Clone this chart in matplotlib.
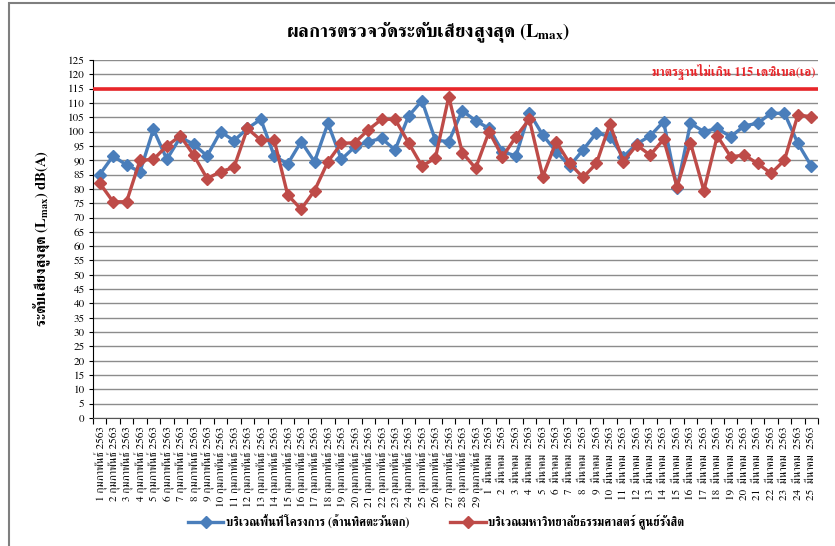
import numpy as np
import matplotlib
matplotlib.use("Agg")
import matplotlib.pyplot as plt
from matplotlib.patches import Rectangle

plt.rcParams['font.family'] = ['FreeSerif', 'DejaVu Serif']
plt.rcParams['mathtext.fontset'] = 'stix'

# dates (Feb 1-29, Mar 1-25, 2563)
labels = [str(d) + " กุมภาพันธ์ 2563" for d in range(1, 30)] + \
         [str(d) + "  มีนาคม  2563" for d in range(1, 26)]

site_west = [85, 91.5, 88.3, 86, 100.8, 90.3, 98, 95.6, 91.5, 100,
             96.8, 101.1, 104.3, 91.5, 88.7, 96.5, 89.5, 102.9, 90.3, 94.7,
             96.5, 97.6, 93.6, 105.4, 110.8, 97, 96.5, 107.3, 103.8, 101.1,
             93, 91.5, 106.6, 98.8, 93, 88, 93.6, 99.6, 98.2, 91.2,
             95.7, 98.5, 103.5, 80.2, 102.9, 100, 101.1, 98.2, 102, 102.9,
             106.4, 106.4, 95.9, 88]
thammasat = [82, 75.5, 75.5, 90, 90.3, 95, 98.5, 91.8, 83.6, 86,
             87.5, 101.1, 97, 97, 77.9, 72.9, 79.4, 89.5, 95.9, 96.1,
             100.6, 104.3, 104.3, 96.1, 88, 90.7, 112.2, 92.7, 87.2, 100,
             91.2, 98.2, 104.3, 84.3, 96.5, 88.9, 84, 88.9, 102.6, 89.5,
             95.3, 91.8, 97.3, 80.8, 96.1, 79.4, 98.5, 91.2, 91.8, 88.9,
             85.4, 90, 105.8, 105.2]
standard = 115

fig = plt.figure(figsize=(8.35, 5.46), dpi=100)
ax = fig.add_axes([93/835, 1 - 418/546, (818 - 93)/835, (418 - 60)/546])

x = np.arange(len(labels))
ax.axhline(standard, color="#e8262a", lw=2.6, zorder=3)
ax.plot(x, site_west, color="#4a7ebb", lw=2.4, marker="D", ms=6.5, zorder=4,
        label="บริเวณพื้นที่โครงการ (ด้านทิศตะวันตก)")
ax.plot(x, thammasat, color="#be4b48", lw=2.4, marker="D", ms=6.5, zorder=4,
        label="บริเวณมหาวิทยาลัยธรรมศาสตร์ ศูนย์รังสิต")

ax.text(len(labels) - 0.7, 120.8, "มาตรฐานไม่เกิน 115 เดซิเบล(เอ)", color="#e8262a",
        fontsize=9, fontweight="bold", ha="right", va="center")

ax.set_xlim(-0.5, len(labels) - 0.5)
ax.set_ylim(0, 125)
ax.set_yticks(np.arange(0, 126, 5))
ax.yaxis.grid(True, color="#8c8c8c", lw=1)
ax.set_axisbelow(True)
ax.tick_params(axis="y", labelsize=8, length=3, width=0.8, pad=3)

ax.set_xticks(x)
ax.set_xticklabels(labels, rotation=90, fontsize=8)
ax.set_xticks(np.arange(-0.5, len(labels), 1), minor=True)
ax.tick_params(axis="x", which="major", length=0, pad=6)
ax.tick_params(axis="x", which="minor", length=4, width=0.8)

for s in ["top", "right"]:
    ax.spines[s].set_visible(False)
ax.spines["left"].set_color("#000000")
ax.spines["bottom"].set_color("#555555")

ax.set_ylabel(r"ระดับเสียงสูงสุด (L$_{\mathregular{max}}$) dB(A)", fontsize=10.5,
              fontweight="bold", labelpad=11)
fig.text(428/835, 1 - 32/546, r"ผลการตรวจวัดระดับเสียงสูงสุด (L$_{\mathregular{max}}$)",
         fontsize=13.5, fontweight="bold", ha="center", va="center")

fig.legend(loc="center", bbox_to_anchor=(436/835, 1 - 522/546), ncol=2, frameon=False,
           columnspacing=3.5, handlelength=3, handletextpad=0.2,
           prop={"weight": "bold", "size": 8.5})

fig.patches.append(Rectangle((9/835, -0.1), 1.2, 1 + 0.1 - 3/546, transform=fig.transFigure,
                             fill=False, edgecolor="#7f7f7f", lw=1.5))

fig.savefig("out.png", dpi=100)
